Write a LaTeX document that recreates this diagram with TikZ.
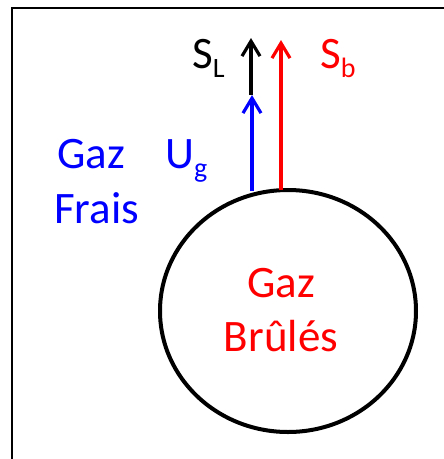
\documentclass[tikz,border=0pt]{standalone}
\usepackage{fontspec}
\setmainfont{Carlito}
\usetikzlibrary{arrows.meta,shapes.geometric}
\definecolor{myblue}{RGB}{0,0,255}
\definecolor{myred}{RGB}{255,0,0}
\newcommand{\subtxt}[1]{\raisebox{-9pt}{\fontsize{28}{28}\selectfont #1}}
\tikzset{
  lbl/.style={inner sep=0pt, anchor=base west, font=\fontsize{45}{55}\selectfont},
  ctr/.style={inner sep=0pt, anchor=base, text=myred, font=\fontsize{45}{55}\selectfont},
  vec/.style={line width=3.2pt, -{Straight Barb[length=15pt,width=18pt,line width=3.2pt]}},
}
\begin{document}
\begin{tikzpicture}[x=1pt,y=-1pt]
\useasboundingbox (0,0) rectangle (444,459);
% frame
\draw[line width=2pt] (12,470) -- (12,8) -- (460,8);
% bubble
\node[draw, line width=4pt, ellipse, minimum width=256pt, minimum height=242pt, inner sep=0pt] (bub) at (288,311) {};
\coordinate (bt) at (252,191);
\coordinate (rt) at (281,190);
\coordinate (bh) at (252,95);
\coordinate (kh) at (251,38);
\coordinate (rh) at (281,40);
\coordinate (kb) at (251,95);
\draw[vec, myblue] (bt) -- (bh);
\draw[vec, black] (kb) -- (kh);
\draw[vec, myred] (rt) -- (rh);
% labels
\node[lbl, text=black] (sl) at (192,68) {S\subtxt{L}};
\node[lbl, text=myred] (sb) at (320,68) {S\subtxt{b}};
\node[lbl, text=myblue] (ug) at (165,168) {U\subtxt{g}};
\node[lbl, text=myblue] (gz1) at (57,168) {Gaz};
\node[lbl, text=myblue] (fr) at (54,223) {Frais};
\node[ctr] (gz2) at (281,297) {Gaz};
\node[ctr] (br) at (281,351) {Brûlés};
\end{tikzpicture}
\end{document}
